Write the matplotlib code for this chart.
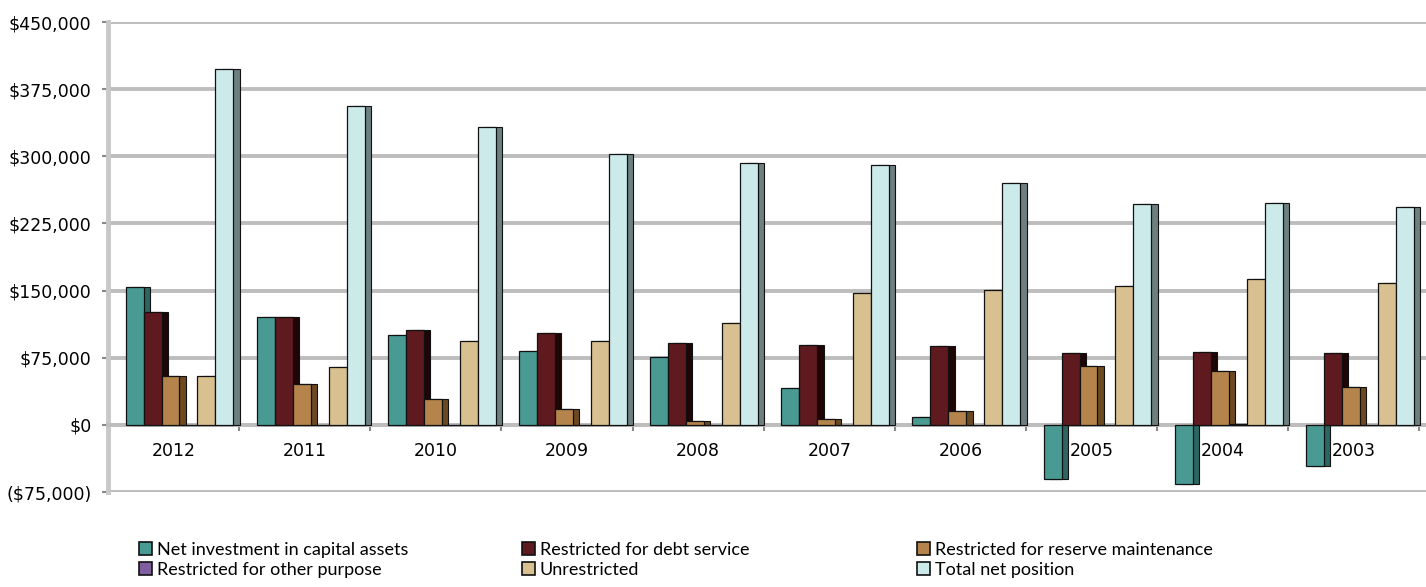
import numpy as np
import matplotlib.pyplot as plt
from matplotlib.patches import Patch
from matplotlib.ticker import FuncFormatter

# net position by year (thousands of dollars shown as dollars)
years = ["2012", "2011", "2010", "2009", "2008", "2007", "2006", "2005", "2004", "2003"]
net_capital = [154000, 120500, 100400, 82600, 75900, 41300, 8900, -60300, -65800, -45800]
debt_service = [126000, 120500, 106000, 102700, 91500, 89300, 88000, 80400, 81500, 80400]
reserve_maint = [54700, 45800, 29000, 17900, 4500, 6700, 15600, 65800, 60300, 42400]
other_purpose = [0, 0, 0, 0, 0, 0, 0, 0, 1500, 0]
unrestricted = [54700, 64700, 93700, 93700, 113800, 147300, 150700, 155100, 162900, 158500]
total_net = [397300, 356000, 332600, 302400, 292400, 290000, 270000, 246600, 247800, 243300]

series = [
    ("Net investment in capital assets", net_capital, "#4A9A94", "#2C6662"),
    ("Restricted for debt service", debt_service, "#5E1A1E", "#1E0506"),
    ("Restricted for reserve maintenance", reserve_maint, "#B5844C", "#6B4A22"),
    ("Restricted for other purpose", other_purpose, "#7F5FA0", "#4A3366"),
    ("Unrestricted", unrestricted, "#D8C090", "#8F7D56"),
    ("Total net position", total_net, "#CDEAEB", "#6E7F80"),
]

fig = plt.figure(figsize=(14.26, 5.87), dpi=100)
ax = fig.add_axes([108 / 1426, 95 / 587, 1 - 108 / 1426, 470 / 587])

x = np.arange(len(years)) + 0.5
w = 0.137
z = 3
for i, (name, vals, face, side) in enumerate(series):
    pos = x + (i - 2.5) * w + 0.045
    # darker side face peeking out to the right, then the front face
    ax.bar(pos + 0.35 * w, vals, width=w, color=side, edgecolor="#111111",
           linewidth=0.8, zorder=z)
    ax.bar(pos, vals, width=w, color=face, edgecolor="#111111",
           linewidth=0.9, zorder=z + 1)
    z += 2

ax.set_xlim(0, 10.05)
ax.set_ylim(-75000, 450000)
ax.set_yticks(np.arange(-75000, 450001, 75000))
ax.yaxis.set_major_formatter(FuncFormatter(
    lambda v, p: "${:,.0f}".format(v) if v >= 0 else "(${:,.0f})".format(-v)))
ax.grid(axis="y", color="#BDBDBD", linewidth=2.8, zorder=0)
ax.set_axisbelow(True)

for s in ["top", "right"]:
    ax.spines[s].set_visible(False)
ax.spines["left"].set_color("#C8C8C8")
ax.spines["left"].set_linewidth(3.5)
ax.spines["bottom"].set_position(("data", 0))
ax.spines["bottom"].set_color("#BDBDBD")
ax.spines["bottom"].set_linewidth(2.8)

# group boundaries get tick marks, year labels sit between them
ax.set_xticks(np.arange(0, 11))
ax.set_xticklabels([])
ax.set_xticks(x, minor=True)
ax.set_xticklabels(years, minor=True, fontsize=12.5, fontfamily="DejaVu Sans")
ax.tick_params(axis="x", which="major", length=4, color="#888888", width=1.5)
ax.tick_params(axis="x", which="minor", length=0, pad=12)
ax.tick_params(axis="y", length=4, color="#888888", width=1.5, labelsize=12.5, pad=8)
for lbl in ax.get_xticklabels(minor=True):
    lbl.set_zorder(30)

handles = [Patch(facecolor=face, edgecolor="#111111", linewidth=1.2, label=name)
           for name, vals, face, side in series]
col_x = [139, 522, 917]
for c in range(3):
    fig.legend(handles=[handles[c], handles[c + 3]], loc="upper left",
               bbox_to_anchor=(col_x[c] / 1426, 1 - 542 / 587), frameon=False,
               prop={"family": "Lato", "size": 13}, handlelength=0.72,
               handleheight=0.72, handletextpad=0.25, labelspacing=0.22,
               borderpad=0, borderaxespad=0)

fig.savefig("out.png", dpi=100)
